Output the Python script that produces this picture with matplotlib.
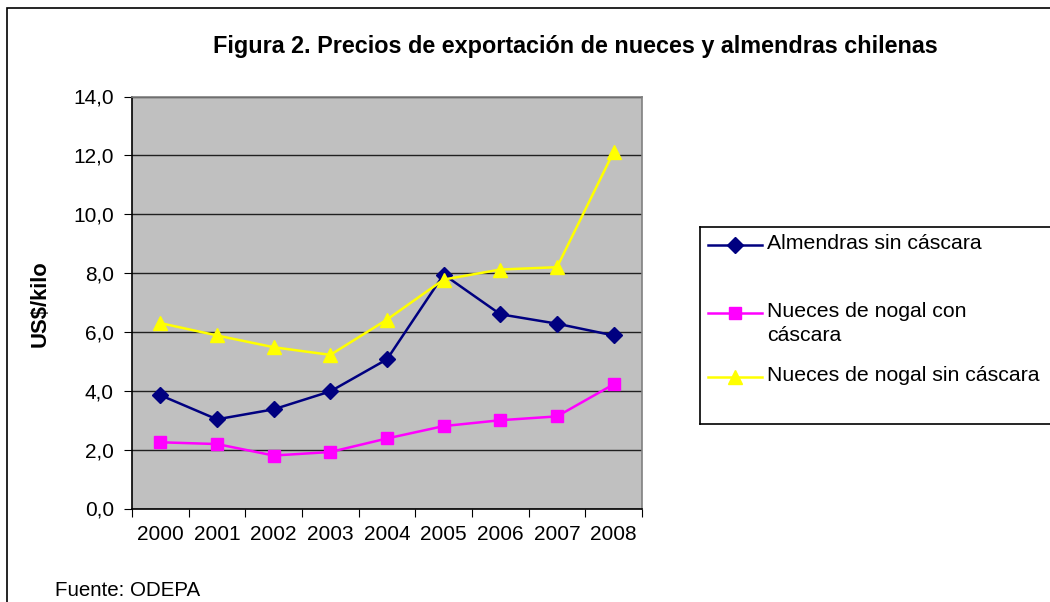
import matplotlib.pyplot as plt
from matplotlib.patches import Rectangle
from matplotlib.lines import Line2D

plt.rcParams['font.family'] = ['Liberation Sans', 'DejaVu Sans']

anios = ['2000', '2001', '2002', '2003', '2004', '2005', '2006', '2007', '2008']
almendras_sin = [3.85, 3.03, 3.37, 3.98, 5.07, 7.95, 6.6, 6.28, 5.88]
nueces_con = [2.25, 2.19, 1.8, 1.92, 2.38, 2.8, 3.0, 3.13, 4.22]
nueces_sin = [6.3, 5.88, 5.48, 5.22, 6.42, 7.78, 8.12, 8.2, 12.12]

series = [
    ('Almendras sin cáscara', almendras_sin, '#000080', 'D', 8),
    ('Nueces de nogal con\ncáscara', nueces_con, '#FF00FF', 's', 8),
    ('Nueces de nogal sin cáscara', nueces_sin, '#FFFF00', '^', 10),
]

W, H = 1050, 602
fig = plt.figure(figsize=(W / 100, H / 100), dpi=100)

# marco exterior
fig.add_artist(Rectangle((7 / W, -0.1), 1.2, 1 - 8 / H + 0.1, transform=fig.transFigure,
                         fill=False, edgecolor='black', linewidth=1.2))

ax = fig.add_axes([132 / W, 1 - 508.5 / H, 510 / W, (508.5 - 96.5) / H])
ax.set_facecolor('#C0C0C0')
x = list(range(len(anios)))
for nombre, vals, color, mk, ms in series:
    ax.plot(x, vals, color=color, marker=mk, markersize=ms, linewidth=1.8, label=nombre)

ax.set_xlim(-0.5, len(anios) - 0.5)
ax.set_ylim(0, 14)
ax.set_yticks([0, 2, 4, 6, 8, 10, 12, 14])
ax.set_yticklabels([f'{v:.1f}'.replace('.', ',') for v in ax.get_yticks()])
ax.yaxis.grid(True, color='#202020', linewidth=1)
ax.set_axisbelow(True)
ax.set_xticks([i - 0.5 for i in range(len(anios) + 1)])
ax.set_xticklabels([])
ax.set_xticks(x, minor=True)
ax.set_xticklabels(anios, minor=True)
ax.tick_params(axis='x', which='minor', length=0, pad=12, labelsize=15)
ax.tick_params(axis='x', which='major', length=6, direction='out')
ax.tick_params(axis='y', length=6, direction='out', pad=7, labelsize=15)
for s in ['left', 'bottom']:
    ax.spines[s].set_color('black')
    ax.spines[s].set_linewidth(1.2)
for s in ['top', 'right']:
    ax.spines[s].set_color('#808080')
    ax.spines[s].set_linewidth(1.2)

fig.text(575 / W, 1 - 46 / H, 'Figura 2. Precios de exportación de nueces y almendras chilenas',
         ha='center', va='center', fontsize=16.8, fontweight='bold')
fig.text(40 / W, 1 - 304 / H, 'US$/kilo', rotation=90, ha='center', va='center',
         fontsize=15.8, fontweight='bold')
fig.text(55 / W, 1 - 590 / H, 'Fuente: ODEPA', ha='left', va='center', fontsize=14.8)

# leyenda
lg = fig.add_axes([700 / W, 1 - 424 / H, 370 / W, (424 - 227) / H])
lg.set_xlim(700, 1070)
lg.set_ylim(424, 227)
lg.set_xticks([])
lg.set_yticks([])
for s in lg.spines.values():
    s.set_linewidth(1.2)
filas = [245, 313, 377]
for (nombre, vals, color, mk, ms), yy in zip(series, filas):
    lg.add_line(Line2D([708, 762], [yy, yy], color=color, linewidth=1.8))
    lg.plot([735], [yy], color=color, marker=mk, markersize=ms)
    lg.text(767, yy - 11, nombre, ha='left', va='top', fontsize=15.3, linespacing=1.3)

fig.savefig('out.png', dpi=100)
